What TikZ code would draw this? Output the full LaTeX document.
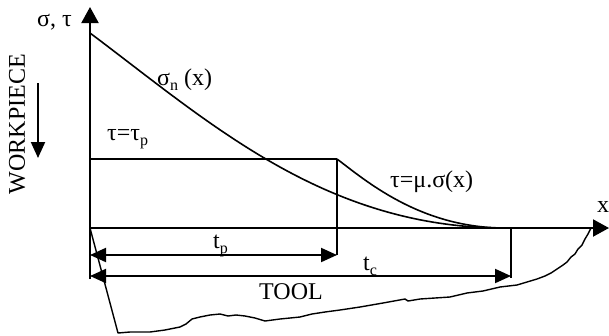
\documentclass[tikz,border=0pt]{standalone}
\usepackage{fontspec}
\setmainfont{Liberation Serif}
\usetikzlibrary{arrows.meta}
\newcommand{\lowsub}[1]{\raisebox{-0.22em}{\fontsize{16}{16}\selectfont #1}}
\begin{document}
\begin{tikzpicture}[x=1pt,y=-1pt,
  lbl/.style={inner sep=0pt, font=\fontsize{24}{28}\selectfont, anchor=base west},
  axis/.style={line width=2pt},
  thinln/.style={line width=1.4pt},
  crv/.style={line width=1.6pt},
  axtip/.style={-{Triangle[length=16pt,width=17pt]}},
  dimarr/.style={line width=2pt,{Triangle[length=16pt,width=14pt]}-{Triangle[length=16pt,width=14pt]}}]
\useasboundingbox (0,0) rectangle (609,335);
% key points
\coordinate (O) at (90,228);
\coordinate (ytop) at (90,7);
\coordinate (ybot) at (90,279);
\coordinate (xend) at (609,228);
\coordinate (s0) at (90,33);
\coordinate (send) at (505,228);
\coordinate (tp) at (90,159);
\coordinate (tpe) at (337,159);
\coordinate (tpd) at (337,255);
\coordinate (tcu) at (511,228);
\coordinate (tcd) at (511,278);
\coordinate (tpl) at (90,255);
\coordinate (tcl) at (90,276);
\coordinate (tcr) at (511,276);
\coordinate (wa) at (38,83);
\coordinate (wb) at (38,158);
% axes
\draw[axis,axtip] (ybot) -- (ytop);
\draw[axis,axtip] (O) -- (xend);
% sigma_n curve
\draw[crv] (s0) .. controls (210,123) and (325,228) .. (send);
% tau = tau_p plateau
\draw[axis] (tp) -- (tpe);
\draw[thinln] (tpe) -- (tpd);
% tau = mu sigma curve
\draw[crv] (tpe) .. controls (365,180) and (420,228) .. (send);
% t_c limit
\draw[thinln] (tcu) -- (tcd);
% dimension arrows
\draw[dimarr] (tpl) -- (tpd);
\draw[dimarr] (tcl) -- (tcr);
% workpiece arrow
\draw[line width=2pt,-{Triangle[length=16pt,width=14pt]}] (wa) -- (wb);
% tool outline
\draw[line width=1.4pt,line join=round] (O) -- (118,333) -- (130,332) -- (150,332) -- (165,330) -- (180,327)
  -- (186,324) -- (192,319) -- (200,317) -- (210,315) -- (220,314) -- (228,316) -- (236,315)
  -- (245,316) -- (255,318) -- (265,321) -- (280,319) -- (300,317) -- (312,314) -- (325,312)
  -- (340,310) -- (360,307) -- (383,303) -- (405,299) -- (408,301) -- (420,299) -- (450,297)
  -- (467,293) -- (483,291) -- (500,287) -- (517,285) -- (527,282) -- (537,279) -- (545,276)
  -- (551,273) -- (557,269) -- (563,265) -- (567,262) -- (571,257) -- (575,254) -- (578,249)
  -- (582,245) -- (585,239) -- (588,234) -- (591,228);
% labels
\node[lbl] (lsig) at (37,26) {σ, τ};
\node[lbl,rotate=90,anchor=center] (lwp) at (17,124) {WORKPIECE};
\node[lbl] (lsn) at (157,85) {σ\lowsub{n} (x)};
\node[lbl] (ltp) at (107,140) {τ=τ\lowsub{p}};
\node[lbl] (lmu) at (390,187) {τ=μ.σ(x)};
\node[lbl] (lx) at (597,212) {x};
\node[lbl] (ltpd) at (213,248) {t\lowsub{p}};
\node[lbl] (ltcd) at (363,270) {t\lowsub{c}};
\node[lbl] (ltool) at (259,299) {TOOL};
\end{tikzpicture}
\end{document}
